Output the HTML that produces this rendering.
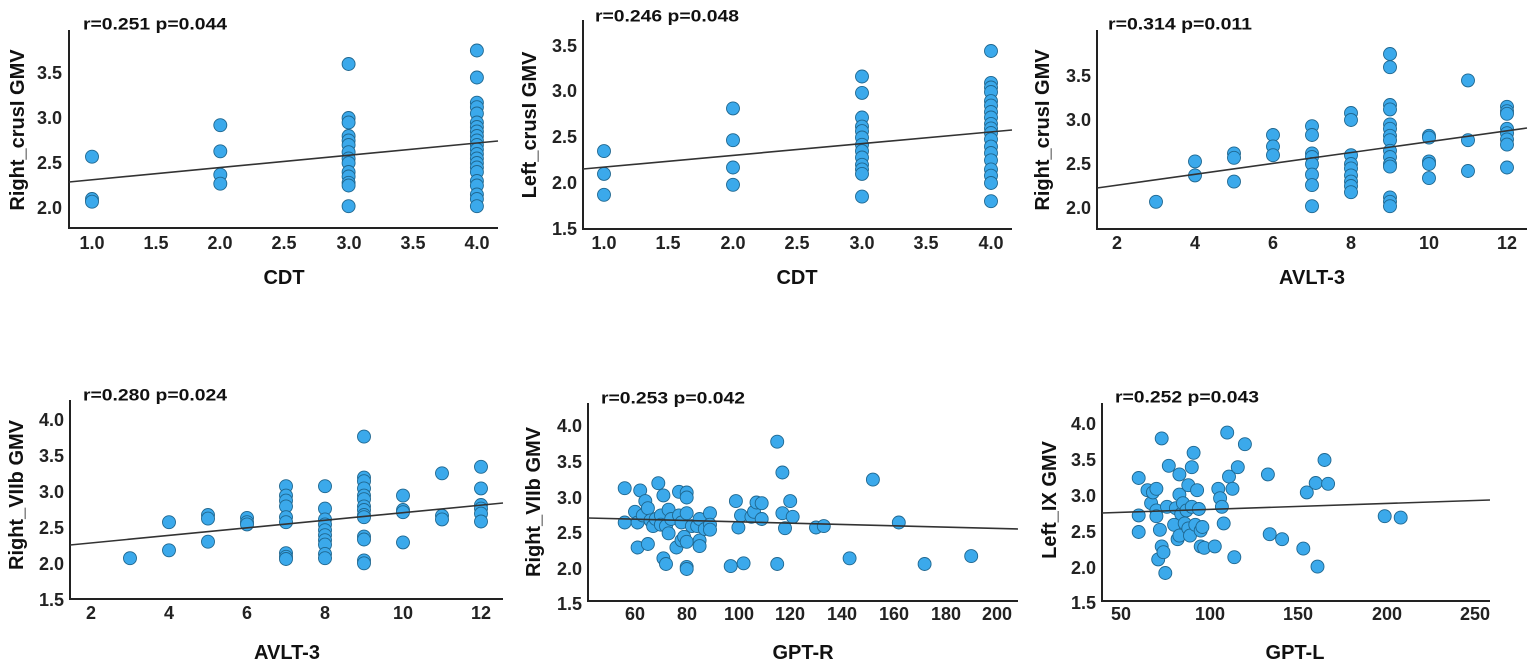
<!DOCTYPE html>
<html><head><meta charset="utf-8">
<style>
html,body{margin:0;padding:0;background:#fff;}
svg{display:block;font-family:"Liberation Sans",Arial,sans-serif;font-weight:bold;}
.t{font-size:17px;fill:#111;}
.tk{font-size:18px;fill:#222;}
.ax{font-size:20px;fill:#111;}
</style></head><body>
<svg id="s" width="1535" height="668" viewBox="0 0 1535 668" xmlns="http://www.w3.org/2000/svg">
<g stroke="#222" stroke-width="2" fill="none">
<polyline points="69,30 69,228 498,228"/>
<polyline points="583,20 583,229 1012,229"/>
<polyline points="1097,30 1097,229 1527,229"/>
<polyline points="70,400 70,599 503,599"/>
<polyline points="588,403 588,601 1018,601"/>
<polyline points="1102,403 1102,601 1490,601"/>
</g>
<g id="dots"></g>
<g stroke="#333" stroke-width="1.6">
<line x1="69" y1="182" x2="498" y2="141"/>
<line x1="583" y1="169" x2="1012" y2="130"/>
<line x1="1097" y1="188" x2="1527" y2="128"/>
<line x1="70" y1="545" x2="503" y2="503"/>
<line x1="588" y1="518" x2="1018" y2="529"/>
<line x1="1102" y1="513" x2="1490" y2="500"/>
</g>
<g class="t" dominant-baseline="central">
<text x="83" y="24" textLength="144" lengthAdjust="spacingAndGlyphs">r=0.251 p=0.044</text>
<text x="595" y="16" textLength="144" lengthAdjust="spacingAndGlyphs">r=0.246 p=0.048</text>
<text x="1108" y="24" textLength="144" lengthAdjust="spacingAndGlyphs">r=0.314 p=0.011</text>
<text x="83" y="395" textLength="144" lengthAdjust="spacingAndGlyphs">r=0.280 p=0.024</text>
<text x="601" y="398" textLength="144" lengthAdjust="spacingAndGlyphs">r=0.253 p=0.042</text>
<text x="1115" y="397" textLength="144" lengthAdjust="spacingAndGlyphs">r=0.252 p=0.043</text>
</g>
<g class="tk" text-anchor="middle" dominant-baseline="central">
<text x="92" y="243">1.0</text><text x="156" y="243">1.5</text><text x="220" y="243">2.0</text><text x="284" y="243">2.5</text><text x="349" y="243">3.0</text><text x="413" y="243">3.5</text><text x="477" y="243">4.0</text>
<text x="604" y="243">1.0</text><text x="668" y="243">1.5</text><text x="733" y="243">2.0</text><text x="797" y="243">2.5</text><text x="862" y="243">3.0</text><text x="926" y="243">3.5</text><text x="991" y="243">4.0</text>
<text x="1117" y="243">2</text><text x="1195" y="243">4</text><text x="1273" y="243">6</text><text x="1351" y="243">8</text><text x="1429" y="243">10</text><text x="1507" y="243">12</text>
<text x="91" y="613">2</text><text x="169" y="613">4</text><text x="247" y="613">6</text><text x="325" y="613">8</text><text x="403" y="613">10</text><text x="481" y="613">12</text>
<text x="635" y="614">60</text><text x="687" y="614">80</text><text x="739" y="614">100</text><text x="790" y="614">120</text><text x="842" y="614">140</text><text x="894" y="614">160</text><text x="946" y="614">180</text><text x="997" y="614">200</text>
<text x="1121" y="614">50</text><text x="1210" y="614">100</text><text x="1298" y="614">150</text><text x="1387" y="614">200</text><text x="1475" y="614">250</text>
</g>
<g class="tk" text-anchor="end" dominant-baseline="central">
<text x="62" y="73">3.5</text><text x="62" y="118">3.0</text><text x="62" y="163">2.5</text><text x="62" y="208">2.0</text>
<text x="577" y="46">3.5</text><text x="577" y="91">3.0</text><text x="577" y="137">2.5</text><text x="577" y="183">2.0</text><text x="577" y="229">1.5</text>
<text x="1091" y="76">3.5</text><text x="1091" y="120">3.0</text><text x="1091" y="164">2.5</text><text x="1091" y="208">2.0</text>
<text x="64" y="420">4.0</text><text x="64" y="456">3.5</text><text x="64" y="492">3.0</text><text x="64" y="528">2.5</text><text x="64" y="564">2.0</text><text x="64" y="600">1.5</text>
<text x="582" y="426">4.0</text><text x="582" y="462">3.5</text><text x="582" y="498">3.0</text><text x="582" y="533">2.5</text><text x="582" y="569">2.0</text><text x="582" y="604">1.5</text>
<text x="1096" y="424">4.0</text><text x="1096" y="460">3.5</text><text x="1096" y="496">3.0</text><text x="1096" y="532">2.5</text><text x="1096" y="568">2.0</text><text x="1096" y="603">1.5</text>
</g>
<g class="ax" text-anchor="middle" dominant-baseline="central">
<text x="284" y="278">CDT</text>
<text x="797" y="278">CDT</text>
<text x="1312" y="278">AVLT-3</text>
<text x="287" y="653">AVLT-3</text>
<text x="803" y="653">GPT-R</text>
<text x="1295" y="653">GPT-L</text>
<text transform="translate(18,130) rotate(-90)">Right_crusI GMV</text>
<text transform="translate(530,125) rotate(-90)">Left_crusI GMV</text>
<text transform="translate(1043,130) rotate(-90)">Right_crusI GMV</text>
<text transform="translate(17,495) rotate(-90)">Right_VIIb GMV</text>
<text transform="translate(534,502) rotate(-90)">Right_VIIb GMV</text>
<text transform="translate(1050,500) rotate(-90)">Left_IX GMV</text>
</g>
</svg>
<script>
var NS="http://www.w3.org/2000/svg",g=document.getElementById("dots");
function dot(x,y){var c=document.createElementNS(NS,"circle");c.setAttribute("cx",x.toFixed(1));c.setAttribute("cy",y.toFixed(1));c.setAttribute("r","6.5");c.setAttribute("fill","#3BA9EB");c.setAttribute("stroke","#1f6790");c.setAttribute("stroke-width","0.9");g.appendChild(c);}
function grp(d,fx,fy){for(var k in d){d[k].forEach(function(v){dot(fx(+k),fy(v));});}}
grp({1:[2.57,2.1,2.07],2:[2.92,2.63,2.37,2.27],3:[3.6,3.0,2.95,2.8,2.75,2.7,2.62,2.55,2.5,2.4,2.35,2.28,2.25,2.02],4:[3.75,3.45,3.17,3.12,3.05,2.95,2.9,2.85,2.8,2.75,2.7,2.65,2.6,2.55,2.5,2.45,2.4,2.3,2.25,2.15,2.1,2.02]},
 function(v){return 92+(v-1)*128.3},function(v){return 208-(v-2)*90});
grp({1:[2.35,2.1,1.87],2:[2.82,2.47,2.17,1.98],3:[3.17,2.99,2.72,2.62,2.57,2.5,2.42,2.35,2.28,2.2,2.15,2.1,1.85],4:[3.45,3.1,3.05,3.0,2.9,2.85,2.78,2.72,2.65,2.6,2.55,2.48,2.4,2.33,2.25,2.15,2.08,2.0,1.8]},
 function(v){return 604+(v-1)*129},function(v){return 183-(v-2)*91});
grp({3:[2.07],4:[2.53,2.37],5:[2.62,2.57,2.3],6:[2.83,2.7,2.6],7:[2.93,2.83,2.62,2.58,2.5,2.38,2.26,2.02],8:[3.08,3.0,2.6,2.5,2.45,2.37,2.3,2.25,2.18],9:[3.75,3.6,3.17,3.12,2.95,2.9,2.82,2.77,2.65,2.58,2.5,2.47,2.12,2.07,2.02],10:[2.82,2.8,2.53,2.5,2.34],11:[3.45,2.77,2.42],12:[3.15,3.1,3.07,2.9,2.85,2.78,2.72,2.46]},
 function(v){return 1117+(v-2)*39},function(v){return 208-(v-2)*88});
grp({3:[2.08],4:[2.58,2.19],5:[2.68,2.63,2.31],6:[2.64,2.58,2.55],7:[3.08,2.95,2.88,2.8,2.65,2.58,2.15,2.1,2.07],8:[3.08,2.77,2.62,2.55,2.47,2.4,2.33,2.27,2.14,2.08],9:[3.77,3.2,3.15,3.05,2.95,2.9,2.8,2.75,2.68,2.65,2.38,2.34,2.05,2.01],10:[2.95,2.75,2.72,2.3],11:[3.26,2.67,2.62],12:[3.35,3.05,2.82,2.77,2.7,2.59]},
 function(v){return 91+(v-2)*39},function(v){return 564-(v-2)*72});
var p5=[[56,3.13],[56,2.65],[60,2.8],[61,2.65],[61,2.3],[62,3.1],[63,2.75],[64,2.95],[65,2.85],[65,2.35],[66,2.68],[67,2.6],[68,2.7],[69,3.2],[70,2.75],[70,2.62],[71,3.03],[71,2.15],[72,2.07],[72,2.6],[73,2.83],[73,2.5],[74,2.7],[76,2.3],[77,3.08],[77,2.75],[78,2.65],[78,2.4],[79,2.45],[80,3.07],[80,3.0],[80,2.78],[80,2.38],[80,2.03],[80,2.0],[82,2.6],[84,2.6],[85,2.7],[85,2.4],[85,2.32],[87,2.56],[89,2.78],[89,2.62],[89,2.55],[97,2.04],[99,2.95],[100,2.58],[101,2.75],[102,2.08],[105,2.73],[106,2.8],[107,2.93],[109,2.92],[109,2.7],[115,3.78],[115,2.07],[117,3.35],[117,2.78],[118,2.57],[120,2.95],[121,2.73],[130,2.58],[133,2.6],[143,2.15],[152,3.25],[162,2.65],[172,2.07],[190,2.18]];
p5.forEach(function(p){dot(635+(p[0]-60)*2.586,569-(p[1]-2)*71.5);});
var p6=[[60,3.25],[60,2.73],[60,2.5],[65,3.08],[67,2.9],[68,3.05],[70,3.1],[70,2.8],[70,2.72],[71,2.12],[72,2.53],[73,3.8],[73,2.3],[74,2.22],[75,1.93],[76,2.85],[77,3.42],[80,2.6],[81,2.83],[82,2.4],[83,3.3],[83,3.02],[83,2.45],[84,2.75],[85,2.9],[86,2.62],[87,2.8],[88,3.15],[88,2.55],[89,2.45],[90,2.85],[90,3.4],[91,3.6],[92,2.6],[93,3.08],[94,2.82],[95,2.3],[95,2.52],[96,2.57],[97,2.28],[103,2.3],[105,3.1],[106,2.97],[107,2.85],[108,2.62],[110,3.88],[111,3.27],[113,3.1],[114,2.15],[116,3.4],[120,3.72],[133,3.3],[134,2.47],[141,2.4],[153,2.27],[155,3.05],[160,3.18],[161,2.02],[165,3.5],[167,3.17],[199,2.72],[208,2.7]];
p6.forEach(function(p){dot(1121+(p[0]-50)*1.77,568-(p[1]-2)*72);});
</script>
</body></html>
